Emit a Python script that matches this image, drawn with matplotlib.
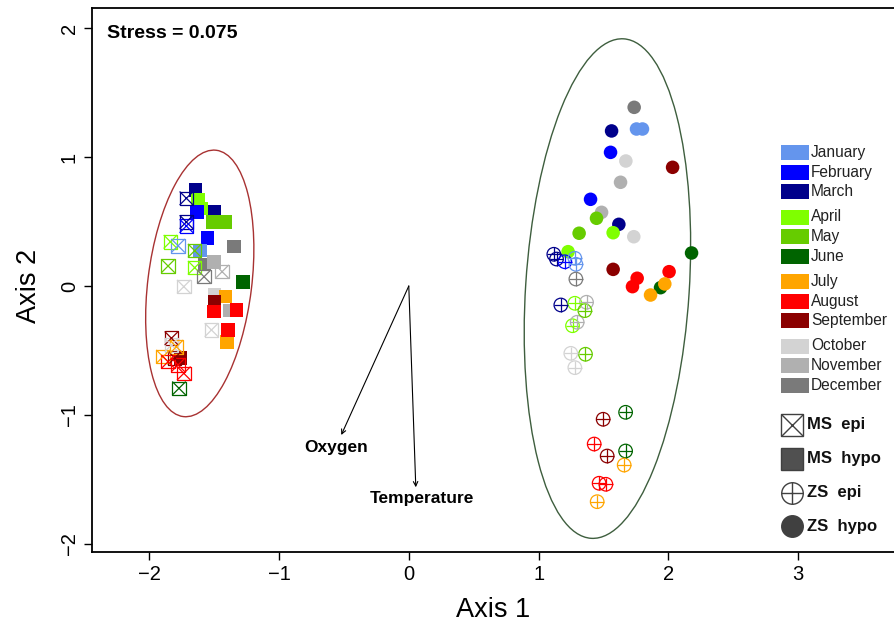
import matplotlib
matplotlib.use("Agg")
import matplotlib.pyplot as plt
from matplotlib.patches import Ellipse, Rectangle

plt.rcParams['font.family'] = ['Liberation Sans', 'DejaVu Sans']

months = ['January', 'February', 'March', 'April', 'May', 'June',
          'July', 'August', 'September', 'October', 'November', 'December']
month_colors = ['#6495ED', '#0000FF', '#00008B', '#7FFF00', '#66CC00', '#006400',
                '#FFA500', '#FF0000', '#8B0000', '#D3D3D3', '#B0B0B0', '#7A7A7A']

# MS hypo (filled squares): month index, axis1, axis2
ms_hypo_m = [2, 2, 3, 3, 1, 1, 4, 4, 11, 11, 0, 10, 10, 5, 9, 6, 6, 8, 8, 7, 7, 7]
ms_hypo_x = [-1.643, -1.502, -1.623, -1.597, -1.633, -1.551, -1.512, -1.410, -1.348, -1.572,
             -1.610, -1.502, -1.379, -1.277, -1.495, -1.410, -1.400, -1.495, -1.759,
             -1.502, -1.327, -1.392]
ms_hypo_y = [0.744, 0.574, 0.667, 0.602, 0.574, 0.370, 0.498, 0.498, 0.305, 0.168,
             0.274, 0.188, -0.191, 0.033, -0.070, -0.083, -0.436, -0.122, -0.560,
             -0.199, -0.186, -0.341]

# MS epi (square with cross)
ms_epi_m = [2, 2, 1, 3, 3, 0, 4, 4, 10, 11, 9, 9, 8, 8, 9, 6, 6, 7, 7, 7, 5]
ms_epi_x = [-1.713, -1.713, -1.713, -1.836, -1.649, -1.777, -1.649, -1.854, -1.438, -1.577,
            -1.733, -1.520, -1.828, -1.803, -1.828, -1.790, -1.893, -1.854, -1.777,
            -1.733, -1.770]
ms_epi_y = [0.680, 0.496, 0.465, 0.343, 0.142, 0.312, 0.274, 0.155, 0.111, 0.072,
            -0.005, -0.341, -0.405, -0.558, -0.457, -0.471, -0.548, -0.587, -0.612,
            -0.677, -0.793]

# ZS hypo (filled circles)
zs_hypo_m = [11, 2, 2, 0, 0, 1, 1, 9, 9, 8, 8, 10, 10, 4, 4, 3, 3, 5, 5, 7, 7, 7, 6, 6]
zs_hypo_x = [1.736, 1.562, 1.618, 1.754, 1.800, 1.554, 1.400, 1.672, 1.733, 2.032, 1.574,
             1.631, 1.485, 1.446, 1.312, 1.574, 1.227, 2.178, 1.939, 1.759, 1.723, 2.005,
             1.972, 1.862]
zs_hypo_y = [1.385, 1.202, 0.478, 1.217, 1.217, 1.036, 0.672, 0.969, 0.382, 0.920, 0.129,
             0.804, 0.571, 0.525, 0.409, 0.413, 0.266, 0.256, -0.013, 0.060, -0.005, 0.111,
             0.016, -0.070]

# ZS epi (circle with plus)
zs_epi_m = [2, 2, 2, 1, 0, 0, 11, 3, 3, 10, 10, 4, 4, 9, 9, 8, 8, 5, 5, 7, 7, 7, 6, 6]
zs_epi_x = [1.117, 1.138, 1.171, 1.202, 1.279, 1.287, 1.287, 1.279, 1.261, 1.369, 1.297,
            1.356, 1.361, 1.248, 1.279, 1.497, 1.528, 1.670, 1.670, 1.428, 1.466, 1.518,
            1.659, 1.451]
zs_epi_y = [0.246, 0.209, -0.147, 0.188, 0.215, 0.168, 0.054, -0.134, -0.308, -0.126,
            -0.281, -0.191, -0.529, -0.522, -0.633, -1.033, -1.318, -0.979, -1.279,
            -1.225, -1.529, -1.537, -1.388, -1.672]

# environmental vectors
vec_names = ['Oxygen', 'Temperature']
vec_x = [-0.52, 0.054]
vec_y = [-1.155, -1.56]

fig = plt.figure(figsize=(8.95, 6.25), dpi=100)
ax = fig.add_axes([92 / 895, 73 / 625, 803 / 895, 544 / 625])
ax.set_xlim(-2.44, 3.745)
ax.set_ylim(-2.062, 2.155)

# group ellipses
ax.add_patch(Ellipse((-1.61, 0.02), 0.80, 2.08, angle=-7, fill=False,
                     edgecolor='#A83232', lw=1.0))
ax.add_patch(Ellipse((1.53, -0.02), 1.26, 3.88, angle=-3.7, fill=False,
                     edgecolor='#3E5E3E', lw=1.0))

ms = 95
ax.scatter(ms_hypo_x, ms_hypo_y, s=ms, marker='s',
           c=[month_colors[m] for m in ms_hypo_m], linewidths=0, zorder=3)
ax.scatter(zs_hypo_x, zs_hypo_y, s=ms, marker='o',
           c=[month_colors[m] for m in zs_hypo_m], linewidths=0, zorder=3)
for xs, ys, mm, shape, inner in [(ms_epi_x, ms_epi_y, ms_epi_m, 's', 'x'),
                                 (zs_epi_x, zs_epi_y, zs_epi_m, 'o', '+')]:
    cols = [month_colors[m] for m in mm]
    ax.scatter(xs, ys, s=ms, marker=shape, facecolors='none', edgecolors=cols,
               linewidths=0.9, zorder=4)
    ax.scatter(xs, ys, s=ms, marker=inner, c=cols, linewidths=0.9, zorder=4)

# arrows
label_off = [(-0.04, -0.10), (0.05, -0.09)]
for name, vx, vy, (dx, dy) in zip(vec_names, vec_x, vec_y, label_off):
    ax.annotate('', xy=(vx, vy), xytext=(0, 0),
                arrowprops=dict(arrowstyle='->', color='black', lw=0.8,
                                shrinkA=0, shrinkB=0, mutation_scale=8))
    ax.text(vx + dx, vy + dy, name, ha='center', va='center',
            fontsize=12.5, fontweight='bold')

ax.text(0.019, 0.954, 'Stress = 0.075', transform=ax.transAxes, fontsize=14,
        fontweight='bold', va='center', ha='left')

# spines / ticks
ax.spines['right'].set_visible(False)
for s in ['left', 'bottom', 'top']:
    ax.spines[s].set_linewidth(1.3)
ax.set_xticks([-2, -1, 0, 1, 2, 3])
ax.set_yticks([-2, -1, 0, 1, 2])
ax.tick_params(axis='both', labelsize=14.5, length=6, width=1, direction='out')
ax.set_yticklabels(['\u22122', '\u22121', '0', '1', '2'], rotation=90, va='center')
ax.set_xlabel('Axis 1', fontsize=19.5)
ax.set_ylabel('Axis 2', fontsize=19.5)
ax.xaxis.set_label_coords(0.5, -0.083)
ax.yaxis.set_label_coords(-0.062, 0.49)

# manual legend (figure pixel layout)
def fx(px):
    return (px - 92) / 803

def fy(py):
    return (552 - py) / 544

for i, (name, col) in enumerate(zip(months, month_colors)):
    py = 152.5 + (i // 3) * 64.5 + (i % 3) * 19.6
    ax.add_patch(Rectangle((fx(781), fy(py + 7.5)), 28 / 803, 15 / 544,
                           transform=ax.transAxes, facecolor=col, edgecolor='none',
                           clip_on=False))
    ax.text(fx(811), fy(py), name, transform=ax.transAxes, fontsize=11.2,
            va='center', ha='left', color='#222222')

shape_labels = ['MS  epi', 'MS  hypo', 'ZS  epi', 'ZS  hypo']
shape_markers = [('s', 'x', 'none'), ('s', None, '#505050'),
                 ('o', '+', 'none'), ('o', None, '#404040')]
for j, (lab, (mk, inner, fc)) in enumerate(zip(shape_labels, shape_markers)):
    py = [425, 458.5, 492.5, 526][j]
    ax.plot([fx(792)], [fy(py)], marker=mk, markersize=15.5, markerfacecolor=fc,
            markeredgecolor='#404040', markeredgewidth=1.0, transform=ax.transAxes,
            clip_on=False, linestyle='none')
    if inner:
        ax.plot([fx(792)], [fy(py)], marker=inner, markersize=15.5, color='#404040',
                markeredgewidth=1.0, transform=ax.transAxes, clip_on=False,
                linestyle='none')
    ax.text(fx(807), fy(py), lab, transform=ax.transAxes, fontsize=12,
            fontweight='bold', va='center', ha='left', color='#111111')

fig.savefig('out.png', dpi=100)
